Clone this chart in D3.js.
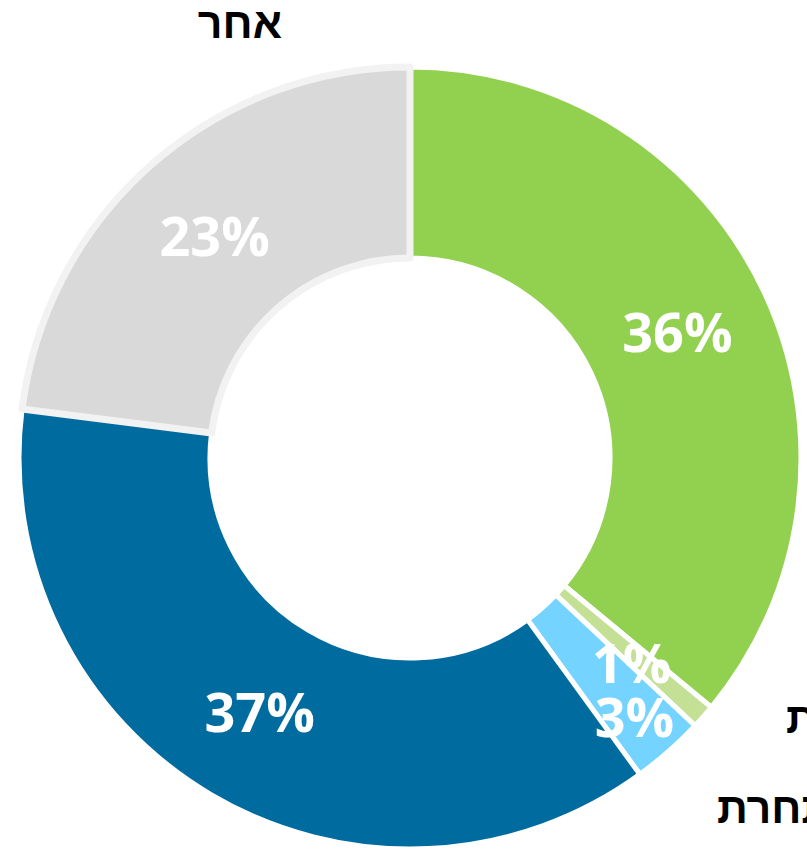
<!DOCTYPE html>
<html><head><meta charset="utf-8">
<script src="https://cdn.jsdelivr.net/npm/d3@7"></script>
<style>html,body{margin:0;padding:0;background:#fff;overflow:hidden}</style>
</head><body>
<svg id="chart" width="807" height="851"></svg>
<script>
const categories = ["אנרגיה ירוקה", "חברה בת", "חברה מתחרת", "הקבוצה", "אחר"];
const values = [36, 1, 3, 37, 23];
const pctLabels = ["36%", "1%", "3%", "37%", "23%"];
const colors = ["#92D050", "#C3E094", "#75D3FF", "#006B9F", "#D9D9D9"];

const svg = d3.select("#chart");
const cx = 410, cy = 458, R = 391, r0 = 200;
const g = svg.append("g").attr("transform", `translate(${cx},${cy})`);

const pie = d3.pie().sort(null).value(d => d.v);
const data = pie(values.map((v, i) => ({v, i})));
const arc = d3.arc().innerRadius(r0).outerRadius(R);

// non-gray slices first, gray slice last (its stroke sits on top)
const order = data.slice().sort((a, b) => (a.data.i === 4) - (b.data.i === 4));
g.selectAll("path.slice").data(order).join("path")
  .attr("class", "slice")
  .attr("d", arc)
  .attr("fill", d => colors[d.data.i])
  .attr("stroke", d => d.data.i === 4 ? "#F2F2F2" : "#FFFFFF")
  .attr("stroke-width", d => d.data.i === 4 ? 7 : 5)
  .attr("stroke-linejoin", "round");

// percentage labels (small slices nudged as in the original)
const nudge = {1: [0, 10], 2: [29, 38]};
g.selectAll("text.pct").data(data).join("text")
  .attr("class", "pct")
  .attr("x", d => arc.centroid(d)[0] + (nudge[d.data.i] ? nudge[d.data.i][0] : 0))
  .attr("y", d => arc.centroid(d)[1] + (nudge[d.data.i] ? nudge[d.data.i][1] : 0))
  .attr("dy", "0.36em")
  .attr("text-anchor", "middle")
  .attr("font-family", "'Open Sans', 'Liberation Sans', sans-serif")
  .attr("font-weight", "bold")
  .attr("font-size", 54)
  .attr("fill", "#FFFFFF")
  .text(d => pctLabels[d.data.i]);

// category labels outside
const outer = [
  {i: 4, x: 282, y: 38, anchor: "end"},
  {i: 1, x: 786, y: 733, anchor: "start"},
  {i: 2, x: 717, y: 823, anchor: "start"}
];
svg.selectAll("text.cat").data(outer).join("text")
  .attr("class", "cat")
  .attr("x", d => d.x)
  .attr("y", d => d.y)
  .attr("text-anchor", d => d.anchor)
  .attr("font-family", "'Liberation Sans', Arial, sans-serif")
  .attr("font-weight", "bold")
  .attr("font-size", 43)
  .attr("fill", "#000")
  .text(d => categories[d.i]);
</script>
</body></html>
